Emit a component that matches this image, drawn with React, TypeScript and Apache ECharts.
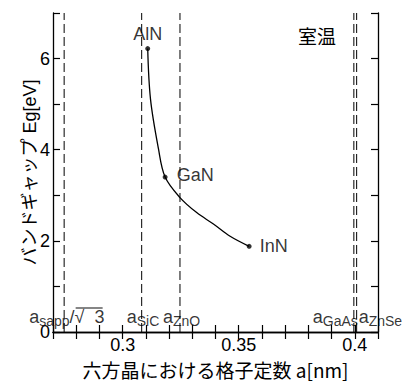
import React, { useEffect, useRef } from 'react';
import * as echarts from 'echarts';

// Compound data points (lattice constant a [nm], band gap Eg [eV])
const compounds = ['AlN', 'GaN', 'InN'];
const compoundA = [0.3108, 0.3183, 0.3545];
const compoundEg = [6.22, 3.4, 1.88];

// Curve
const curveA = [0.3108, 0.312, 0.3154, 0.3183, 0.3247, 0.3319, 0.3391, 0.3463, 0.3545];
const curveEg = [6.22, 5.11, 4.03, 3.4, 2.95, 2.62, 2.37, 2.1, 1.88];

// Substrate lattice constants (dashed lines)
const substrateNames = ['sapp', 'SiC', 'ZnO', 'GaAs', 'ZnSe'];
const substrateA = [0.2748, 0.3082, 0.3247, 0.3996, 0.4008];

// Axis ranges and tick labels
const xRange = [0.27, 0.41];
const yRange = [0, 7];
const xTickLabels = [0.3, 0.35, 0.4];
const yTickLabels = [0, 2, 4, 6];

const FONT = '"Liberation Sans", "Noto Sans CJK JP", sans-serif';
const CJK = '"Noto Sans CJK JP", "Liberation Sans", sans-serif';

const labelDx = [-35, -15, -17, -41, 2];

export default function App() {
  const ref = useRef<HTMLDivElement>(null);

  useEffect(() => {
    if (!ref.current) return;
    const chart = echarts.init(ref.current, null, { renderer: 'svg' });

    const axisLine = { show: true, lineStyle: { color: '#000', width: 1.3 } };
    const axisTick = { show: true, inside: true, length: 7, lineStyle: { color: '#000', width: 1.2 } };

    const richBase = {
      a: { fontSize: 18, fontFamily: FONT, color: '#000', lineHeight: 18, padding: [0, 0, 4, 0] },
      s: { fontSize: 14, fontFamily: FONT, color: '#000', lineHeight: 14, verticalAlign: 'bottom' },
      t: { fontSize: 18, fontFamily: FONT, color: '#000', lineHeight: 18, padding: [0, 0, 4, 10] },
    };

    const dashedSeries = substrateA.map((a) => ({
      type: 'line',
      data: [
        [a, yRange[0]],
        [a, yRange[1]],
      ],
      symbol: 'none',
      silent: true,
      lineStyle: { color: '#000', width: 1, type: [9, 4] },
      z: 1,
    }));

    const option: any = {
      animation: false,
      grid: { left: 53, right: 32, top: 13, bottom: 48 },
      xAxis: [
        {
          type: 'value',
          min: xRange[0],
          max: xRange[1],
          interval: 0.01,
          position: 'bottom',
          axisLine,
          axisTick,
          splitLine: { show: false },
          axisLabel: {
            color: '#000',
            fontSize: 18,
            fontFamily: FONT,
            margin: 4,
            formatter: (v: number) => {
              const t = xTickLabels.find((x) => Math.abs(x - v) < 1e-6);
              return t === undefined ? '' : String(t);
            },
          },
          name: '六方晶における格子定数 a[nm]',
          nameLocation: 'middle',
          nameGap: 28,
          nameMoveOverlap: false,
          nameTextStyle: { color: '#000', fontSize: 19, fontFamily: CJK },
        },
        {
          type: 'value',
          min: xRange[0],
          max: xRange[1],
          interval: 0.01,
          position: 'top',
          axisLine,
          axisTick,
          splitLine: { show: false },
          axisLabel: { show: false },
        },
      ],
      yAxis: [
        {
          type: 'value',
          min: yRange[0],
          max: yRange[1],
          interval: 1,
          position: 'left',
          axisLine,
          axisTick,
          splitLine: { show: false },
          axisLabel: {
            color: '#000',
            fontSize: 18,
            fontFamily: FONT,
            margin: 3,
            formatter: (v: number) => (yTickLabels.includes(v) ? String(v) : ''),
          },
          name: 'バンドギャップ Eg[eV]',
          nameLocation: 'middle',
          nameGap: 14,
          nameMoveOverlap: false,
          nameTextStyle: { color: '#000', fontSize: 18, fontFamily: FONT },
        },
        {
          type: 'value',
          min: yRange[0],
          max: yRange[1],
          interval: 1,
          position: 'right',
          axisLine,
          axisTick,
          splitLine: { show: false },
          axisLabel: { show: false },
        },
      ],
      graphic: [
        {
          type: 'text',
          left: 298,
          top: 26,
          style: { text: '室温', font: '19px "Noto Sans CJK JP"', fill: '#000' },
        },
      ],
      series: [
        ...dashedSeries,
        {
          type: 'line',
          data: curveA.map((a, i) => [a, curveEg[i]]),
          smooth: 0.35,
          symbol: 'none',
          lineStyle: { color: '#000', width: 1.3 },
          z: 3,
        },
        {
          type: 'scatter',
          symbolSize: 5,
          itemStyle: { color: '#000' },
          z: 4,
          data: compounds.map((n, i) => {
            const lbl: any = { show: true, color: '#000', fontSize: 18, fontFamily: FONT, formatter: n };
            if (i === 0) Object.assign(lbl, { position: 'top', distance: 3 });
            if (i === 1) Object.assign(lbl, { position: 'right', distance: 9, offset: [0, -2] });
            if (i === 2) Object.assign(lbl, { position: 'right', distance: 8, offset: [0, 0] });
            return { value: [compoundA[i], compoundEg[i]], label: lbl };
          }),
        },
        {
          type: 'scatter',
          symbolSize: 0,
          clip: false,
          itemStyle: { color: 'transparent' },
          z: 5,
          data: substrateA.map((a, i) => ({
            value: [a, 0],
            label: {
              show: true,
              position: 'top',
              distance: 4,
              align: 'left',
              offset: [labelDx[i], 0],
              formatter: i === 0 ? `{a|a}{s|${substrateNames[i]}}{a|/√}{t|3}` : `{a|a}{s|${substrateNames[i]}}`,
              rich: richBase,
            },
          })),
        },
        {
          type: 'scatter',
          clip: false,
          symbol: 'rect',
          symbolSize: [27, 1.2],
          symbolOffset: [25, -24],
          itemStyle: { color: '#000' },
          z: 5,
          data: [[substrateA[0], 0]],
        },
      ],
    };

    chart.setOption(option);
    return () => chart.dispose();
  }, []);

  return (
    <div
      ref={ref}
      style={{ position: 'absolute', left: 0, top: 0, width: 410, height: 384 }}
    />
  );
}
